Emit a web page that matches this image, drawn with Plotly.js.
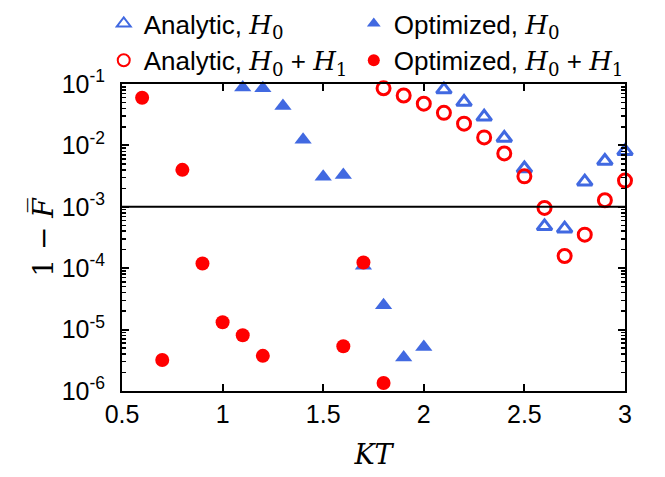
<!DOCTYPE html>
<html>
<head>
<meta charset="utf-8">
<script src="https://cdn.plot.ly/plotly-3.0.1.min.js"></script>
<style>html,body{margin:0;padding:0;background:#fff;}#chart{width:665px;height:477px;}</style>
</head>
<body>
<div id="chart"></div>
<script>
// Infidelity 1 - F̄ versus KT for the analytic and optimized schemes
const ktAnalyticH0 = [2.1, 2.2, 2.3, 2.4, 2.5, 2.6, 2.7, 2.8, 2.9, 3.0];
const analyticH0 = [0.081, 0.0508, 0.0292, 0.0132, 0.0042, 0.00048, 0.00044, 0.00257, 0.00557, 0.00805];

const ktOptimizedH0 = [1.1, 1.2, 1.3, 1.4, 1.5, 1.6, 1.7, 1.8, 1.9, 2.0];
const optimizedH0 = [0.088, 0.085, 0.0439, 0.0124, 0.00309, 0.00329, 1.1e-4, 2.5e-5, 3.5e-6, 5.2e-6];

const ktAnalyticH01 = [1.8, 1.9, 2.0, 2.1, 2.2, 2.3, 2.4, 2.5, 2.6, 2.7, 2.8, 2.9, 3.0];
const analyticH01 = [0.085, 0.065, 0.0478, 0.0339, 0.0226, 0.0135, 0.0074, 0.00313, 0.00096, 0.000158, 0.000352, 0.00128, 0.00267];

const ktOptimizedH01 = [0.6, 0.7, 0.8, 0.9, 1.0, 1.1, 1.2, 1.6, 1.7, 1.8];
const optimizedH01 = [0.0597, 3.19e-6, 0.0040, 1.19e-4, 1.32e-5, 8.1e-6, 3.74e-6, 5.35e-6, 1.24e-4, 1.35e-6];

const thresholdKT = [0.5, 3.0];
const thresholdValue = [1e-3, 1e-3];

const xTicks = [0.5, 1, 1.5, 2, 2.5, 3];
const xTickText = ['0.5', '1', '1.5', '2', '2.5', '3'];
const yTicks = [1e-6, 1e-5, 1e-4, 1e-3, 1e-2, 1e-1];
const yTickText = ['10<sup>-6</sup>', '10<sup>-5</sup>', '10<sup>-4</sup>', '10<sup>-3</sup>', '10<sup>-2</sup>', '10<sup>-1</sup>'];

const BLUE = '#4169e1';
const RED = '#ff0000';
const SERIF = 'DejaVu Serif, Liberation Serif, serif';
const hamil = (s) => '<span style="font-family:' + SERIF + '"><i>' + s.replace(/H(\d)/g, 'H</i><sub>$1</sub><i>') + '</i></span>';

// analytic entries go in the left legend column, optimized entries in the right one
const traces = [
  {
    x: ktAnalyticH0, y: analyticH0, type: 'scatter', mode: 'markers',
    name: 'Analytic, ' + hamil('H0'), legend: 'legend', legendrank: 1,
    marker: {symbol: 'triangle-up-open', size: 13, color: BLUE, line: {width: 3, color: BLUE}},
    cliponaxis: false
  },
  {
    x: ktOptimizedH0, y: optimizedH0, type: 'scatter', mode: 'markers',
    name: 'Optimized, ' + hamil('H0'), legend: 'legend2', legendrank: 1,
    marker: {symbol: 'triangle-up', size: 15, color: BLUE},
    cliponaxis: false
  },
  {
    x: ktAnalyticH01, y: analyticH01, type: 'scatter', mode: 'markers',
    name: 'Analytic, ' + hamil('H0') + ' + ' + hamil('H1'), legend: 'legend', legendrank: 2,
    marker: {symbol: 'circle-open', size: 13, color: RED, line: {width: 3, color: RED}},
    cliponaxis: false
  },
  {
    x: ktOptimizedH01, y: optimizedH01, type: 'scatter', mode: 'markers',
    name: 'Optimized, ' + hamil('H0') + ' + ' + hamil('H1'), legend: 'legend2', legendrank: 2,
    marker: {symbol: 'circle', size: 14, color: RED},
    cliponaxis: false
  },
  {
    x: thresholdKT, y: thresholdValue, type: 'scatter', mode: 'lines',
    line: {color: '#000', width: 2}, showlegend: false, hoverinfo: 'skip'
  }
];

// wide fixed entries make each legend wrap into a single column of two rows
const legendBase = {
  orientation: 'h', xref: 'container', yref: 'container',
  y: 1.0, xanchor: 'left', yanchor: 'top',
  entrywidth: 255, entrywidthmode: 'pixels',
  font: {size: 26, color: '#000'}, itemsizing: 'constant',
  traceorder: 'normal', tracegroupgap: 0, bgcolor: 'rgba(0,0,0,0)'
};

const layout = {
  width: 665, height: 477,
  margin: {l: 122, r: 40, t: 78, b: 86},
  paper_bgcolor: '#fff', plot_bgcolor: '#fff',
  font: {family: 'Liberation Sans, Arial, sans-serif', size: 25, color: '#000'},
  showlegend: true,
  legend: Object.assign({}, legendBase, {x: 0.156}),
  legend2: Object.assign({}, legendBase, {x: 0.532}),
  xaxis: {
    range: [0.5, 3], tickvals: xTicks, ticktext: xTickText,
    ticks: 'inside', ticklen: 7, tickwidth: 2, tickcolor: '#000',
    showline: true, linecolor: '#000', linewidth: 2, mirror: 'ticks',
    showgrid: false, zeroline: false,
    title: {text: '<i>KT</i>', font: {family: SERIF, size: 27}, standoff: 18}
  },
  yaxis: {
    type: 'log', range: [-6, -1], tickvals: yTicks, ticktext: yTickText,
    ticks: 'inside', ticklen: 7, tickwidth: 2, tickcolor: '#000',
    ticklabelstandoff: 10,
    minor: {dtick: 'D1', ticks: 'inside', ticklen: 4, tickwidth: 1.5, tickcolor: '#000', showgrid: false},
    showline: true, linecolor: '#000', linewidth: 2, mirror: 'ticks',
    showgrid: false, zeroline: false,
    title: {text: '1 − <i>F̅</i>', font: {family: SERIF, size: 28}, standoff: 0}
  }
};

Plotly.newPlot('chart', traces, layout, {displayModeBar: false, staticPlot: true});
</script>
</body>
</html>
